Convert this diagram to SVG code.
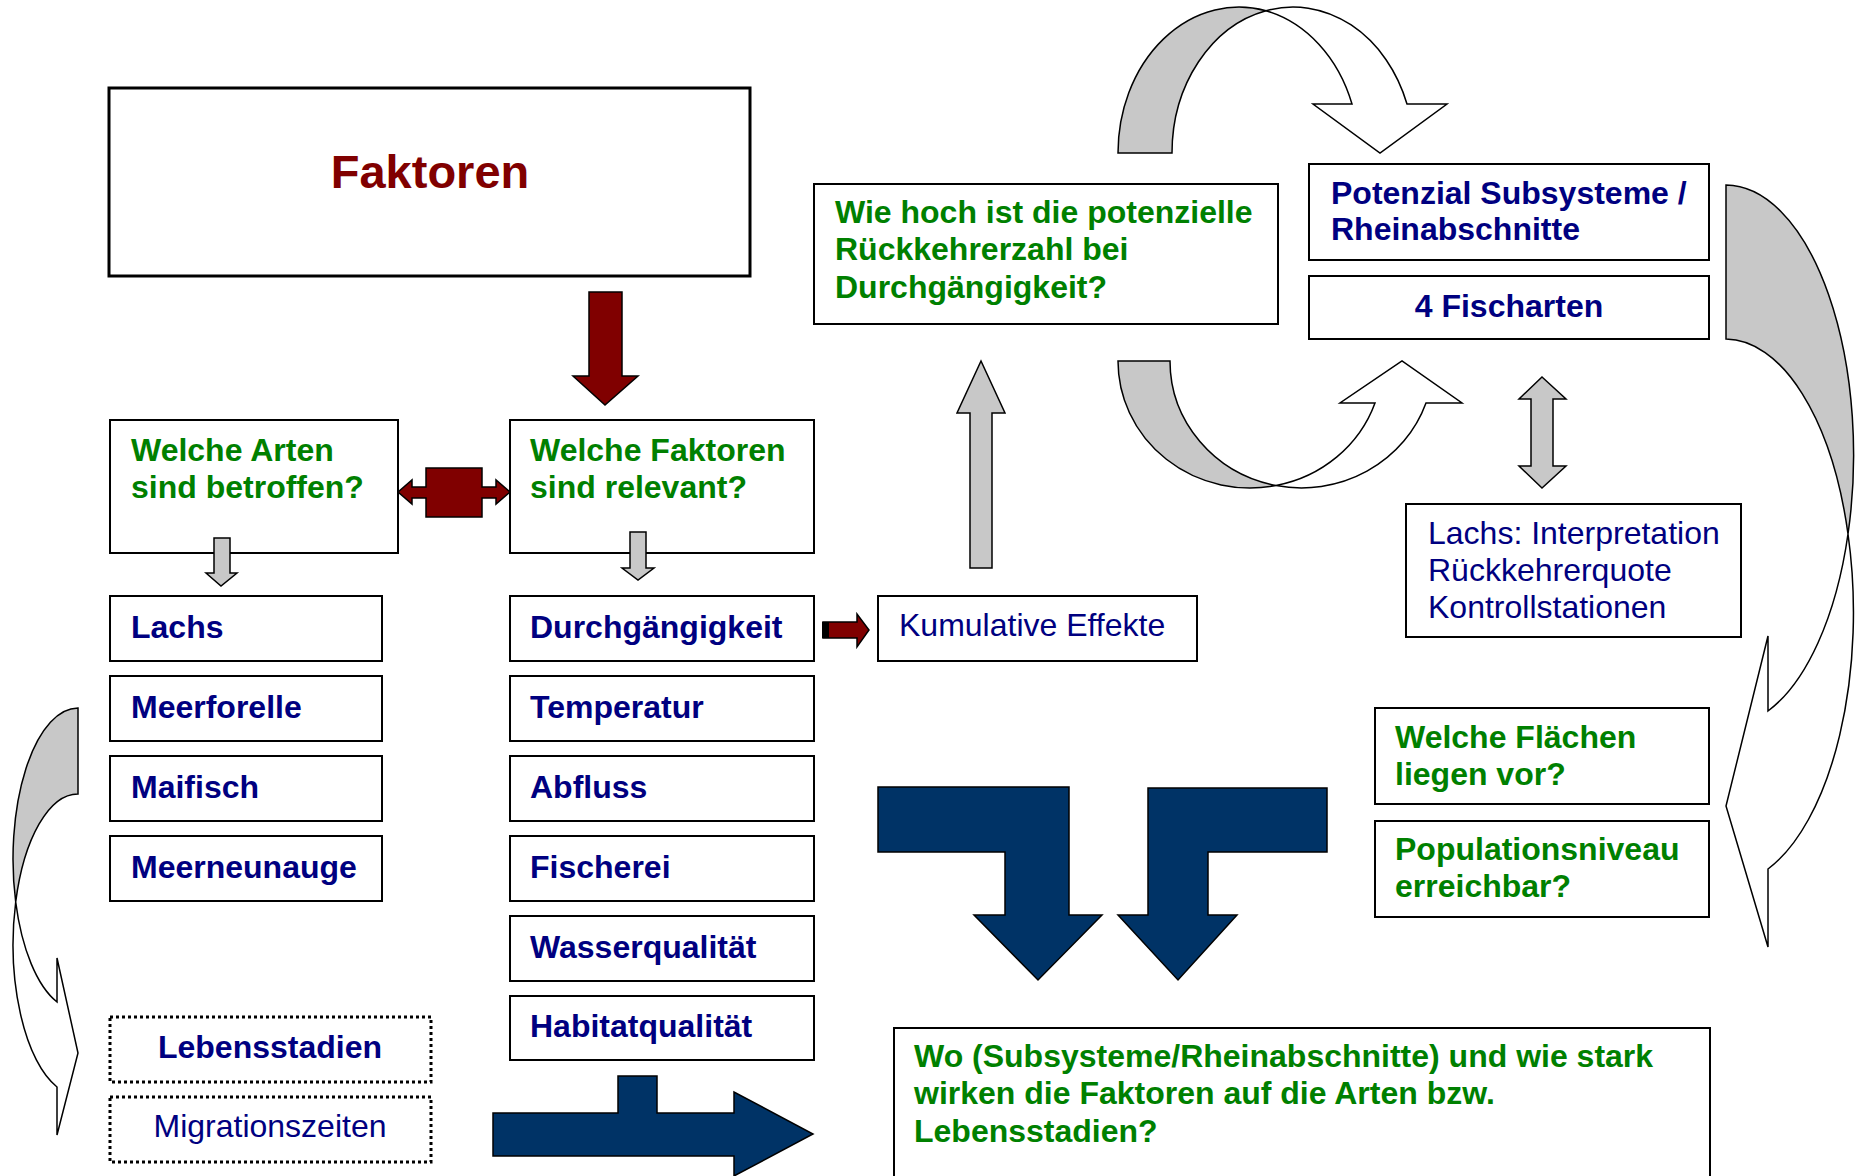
<svg xmlns="http://www.w3.org/2000/svg" width="1858" height="1176" viewBox="0 0 1858 1176">
<style>
text{font-family:"Liberation Sans",Arial,sans-serif;font-size:32px}
.b{font-weight:bold}
.g{fill:#008000}
.n{fill:#000080}
.box{fill:#fff;stroke:#000;stroke-width:2}
.dot{fill:#fff;stroke:#000;stroke-width:3;stroke-dasharray:3 3}
.gray{fill:#c8c8c8;stroke:#000;stroke-width:1.5;stroke-linejoin:miter}
.wht{fill:#fff;stroke:#000;stroke-width:1.5}
.red{fill:#800000;stroke:#000;stroke-width:1.5}
.blue{fill:#003366;stroke:#000;stroke-width:1.5}
</style>
<rect width="1858" height="1176" fill="#fff"/>
<g id="faktoren">
  <rect x="109" y="88" width="641" height="188" fill="#fff" stroke="#000" stroke-width="3"/>
  <text x="430" y="188" text-anchor="middle" class="b" style="font-size:47px" fill="#800000">Faktoren</text>
</g>
<g id="q-arten">
  <rect class="box" x="110" y="420" width="288" height="133"/>
  <text x="131" y="461" class="b g">Welche Arten</text>
  <text x="131" y="498" class="b g">sind betroffen?</text>
</g>
<g id="q-faktoren">
  <rect class="box" x="510" y="420" width="304" height="133"/>
  <text x="530" y="461" class="b g">Welche Faktoren</text>
  <text x="530" y="498" class="b g">sind relevant?</text>
</g>
<g id="lachs"><rect class="box" x="110" y="596" width="272" height="65"/><text x="131" y="638" class="b n">Lachs</text></g>
<g id="meerforelle"><rect class="box" x="110" y="676" width="272" height="65"/><text x="131" y="718" class="b n">Meerforelle</text></g>
<g id="maifisch"><rect class="box" x="110" y="756" width="272" height="65"/><text x="131" y="798" class="b n">Maifisch</text></g>
<g id="meerneunauge"><rect class="box" x="110" y="836" width="272" height="65"/><text x="131" y="878" class="b n">Meerneunauge</text></g>
<g id="durchgaengigkeit"><rect class="box" x="510" y="596" width="304" height="65"/><text x="530" y="638" class="b n">Durchgängigkeit</text></g>
<g id="temperatur"><rect class="box" x="510" y="676" width="304" height="65"/><text x="530" y="718" class="b n">Temperatur</text></g>
<g id="abfluss"><rect class="box" x="510" y="756" width="304" height="65"/><text x="530" y="798" class="b n">Abfluss</text></g>
<g id="fischerei"><rect class="box" x="510" y="836" width="304" height="65"/><text x="530" y="878" class="b n">Fischerei</text></g>
<g id="wasserqualitaet"><rect class="box" x="510" y="916" width="304" height="65"/><text x="530" y="958" class="b n">Wasserqualität</text></g>
<g id="habitatqualitaet"><rect class="box" x="510" y="996" width="304" height="64"/><text x="530" y="1037" class="b n">Habitatqualität</text></g>
<g id="lebensstadien"><rect class="dot" x="110" y="1017" width="321" height="65"/><text x="270" y="1058" text-anchor="middle" class="b n">Lebensstadien</text></g>
<g id="migrationszeiten"><rect class="dot" x="110" y="1097" width="321" height="65"/><text x="270" y="1137" text-anchor="middle" class="n">Migrationszeiten</text></g>
<g id="kumulative"><rect class="box" x="878" y="596" width="319" height="65"/><text x="899" y="636" class="n">Kumulative Effekte</text></g>
<g id="q-rueckkehrer">
  <rect class="box" x="814" y="184" width="464" height="140"/>
  <text x="835" y="223" class="b g">Wie hoch ist die potenzielle</text>
  <text x="835" y="260" class="b g">Rückkehrerzahl bei</text>
  <text x="835" y="298" class="b g">Durchgängigkeit?</text>
</g>
<g id="potenzial">
  <rect class="box" x="1309" y="164" width="400" height="96"/>
  <text x="1331" y="204" class="b n">Potenzial Subsysteme /</text>
  <text x="1331" y="240" class="b n">Rheinabschnitte</text>
</g>
<g id="fischarten"><rect class="box" x="1309" y="276" width="400" height="63"/><text x="1509" y="317" text-anchor="middle" class="b n">4 Fischarten</text></g>
<g id="lachs-interpretation">
  <rect class="box" x="1406" y="504" width="335" height="133"/>
  <text x="1428" y="544" class="n">Lachs: Interpretation</text>
  <text x="1428" y="581" class="n">Rückkehrerquote</text>
  <text x="1428" y="618" class="n">Kontrollstationen</text>
</g>
<g id="q-flaechen">
  <rect class="box" x="1375" y="708" width="334" height="96"/>
  <text x="1395" y="748" class="b g">Welche Flächen</text>
  <text x="1395" y="785" class="b g">liegen vor?</text>
</g>
<g id="q-population">
  <rect class="box" x="1375" y="821" width="334" height="96"/>
  <text x="1395" y="860" class="b g">Populationsniveau</text>
  <text x="1395" y="897" class="b g">erreichbar?</text>
</g>
<g id="q-wo">
  <rect class="box" x="894" y="1028" width="816" height="160"/>
  <text x="914" y="1067" class="b g">Wo (Subsysteme/Rheinabschnitte) und wie stark</text>
  <text x="914" y="1104" class="b g">wirken die Faktoren auf die Arten bzw.</text>
  <text x="914" y="1142" class="b g">Lebensstadien?</text>
</g>
<g id="connectors">
  <polygon class="red" points="589,292 622,292 622,376 638,376 605,405 573,376 589,376"/>
  <polygon class="red" points="398,492 412,480 412,487 426,487 426,468 482,468 482,487 496,487 496,480 510,492 496,504 496,498 482,498 482,517 426,517 426,498 412,498 412,504"/>
  <polygon class="gray" points="214,538 230,538 230,573 237,573 221,586 206,573 214,573"/>
  <polygon class="gray" points="630,532 646,532 646,568 654,568 638,580 622,568 630,568"/>
  <polygon class="red" points="823,622 857,622 857,614 869,630 857,647 857,638 823,638"/>
  <rect x="822" y="622" width="7" height="16" fill="#000"/>
  <polygon class="gray" points="970,568 992,568 992,413 1005,413 981,361 957,413 970,413"/>
  <polygon class="gray" points="1542,377 1566,399 1553,399 1553,466 1566,466 1542,488 1519,466 1531,466 1531,399 1519,399"/>
  <!-- top curved down arrow -->
  <path class="gray" d="M1118,153 A121 146 0 0 1 1266,10.7 A121 146 0 0 0 1172,153 Z"/>
  <path class="wht" d="M1266,10.7 A121 146 0 0 1 1407,104 L1447,104 L1380,153 L1313,104 L1352,104 A121 146 0 0 0 1266,10.7 Z"/>
  <!-- bottom curved up arrow -->
  <path class="gray" d="M1118,361 A132 127 0 0 0 1276,485.5 A132 127 0 0 1 1170,361 Z"/>
  <path class="wht" d="M1276,485.5 A132 127 0 0 0 1426,403 L1462,403 L1402,361 L1340,403 L1375,403 A132 127 0 0 1 1276,485.5 Z"/>
  <!-- right curved left arrow -->
  <path class="gray" d="M1726,185 A128 270 0 0 1 1848,534 A128 272 0 0 0 1726,339 Z"/>
  <path class="wht" d="M1848,534 A128 272 0 0 1 1768,869 L1768,947 L1726,806 L1768,636 L1768,711 A128 270 0 0 0 1848,534 Z"/>
  <!-- left curved right arrow -->
  <path class="gray" d="M78,708 A65 151 0 0 0 15.7,902 A65 151 0 0 1 78,794 Z"/>
  <path class="wht" d="M15.7,902 A65 151 0 0 0 57,1087 L57,1135 L78,1053 L57,958 L57,1002 A65 151 0 0 1 15.7,902 Z"/>
  <!-- big navy arrows -->
  <polygon class="blue" points="878,787 1069,787 1069,915 1102,915 1038,980 974,915 1005,915 1005,852 878,852"/>
  <polygon class="blue" points="1148,788 1327,788 1327,852 1208,852 1208,915 1237,915 1178,980 1118,915 1148,915"/>
  <polygon class="blue" points="493,1113 618,1113 618,1076 657,1076 657,1113 734,1113 734,1092 813,1134 734,1176 734,1156 493,1156"/>
</g>
</svg>
